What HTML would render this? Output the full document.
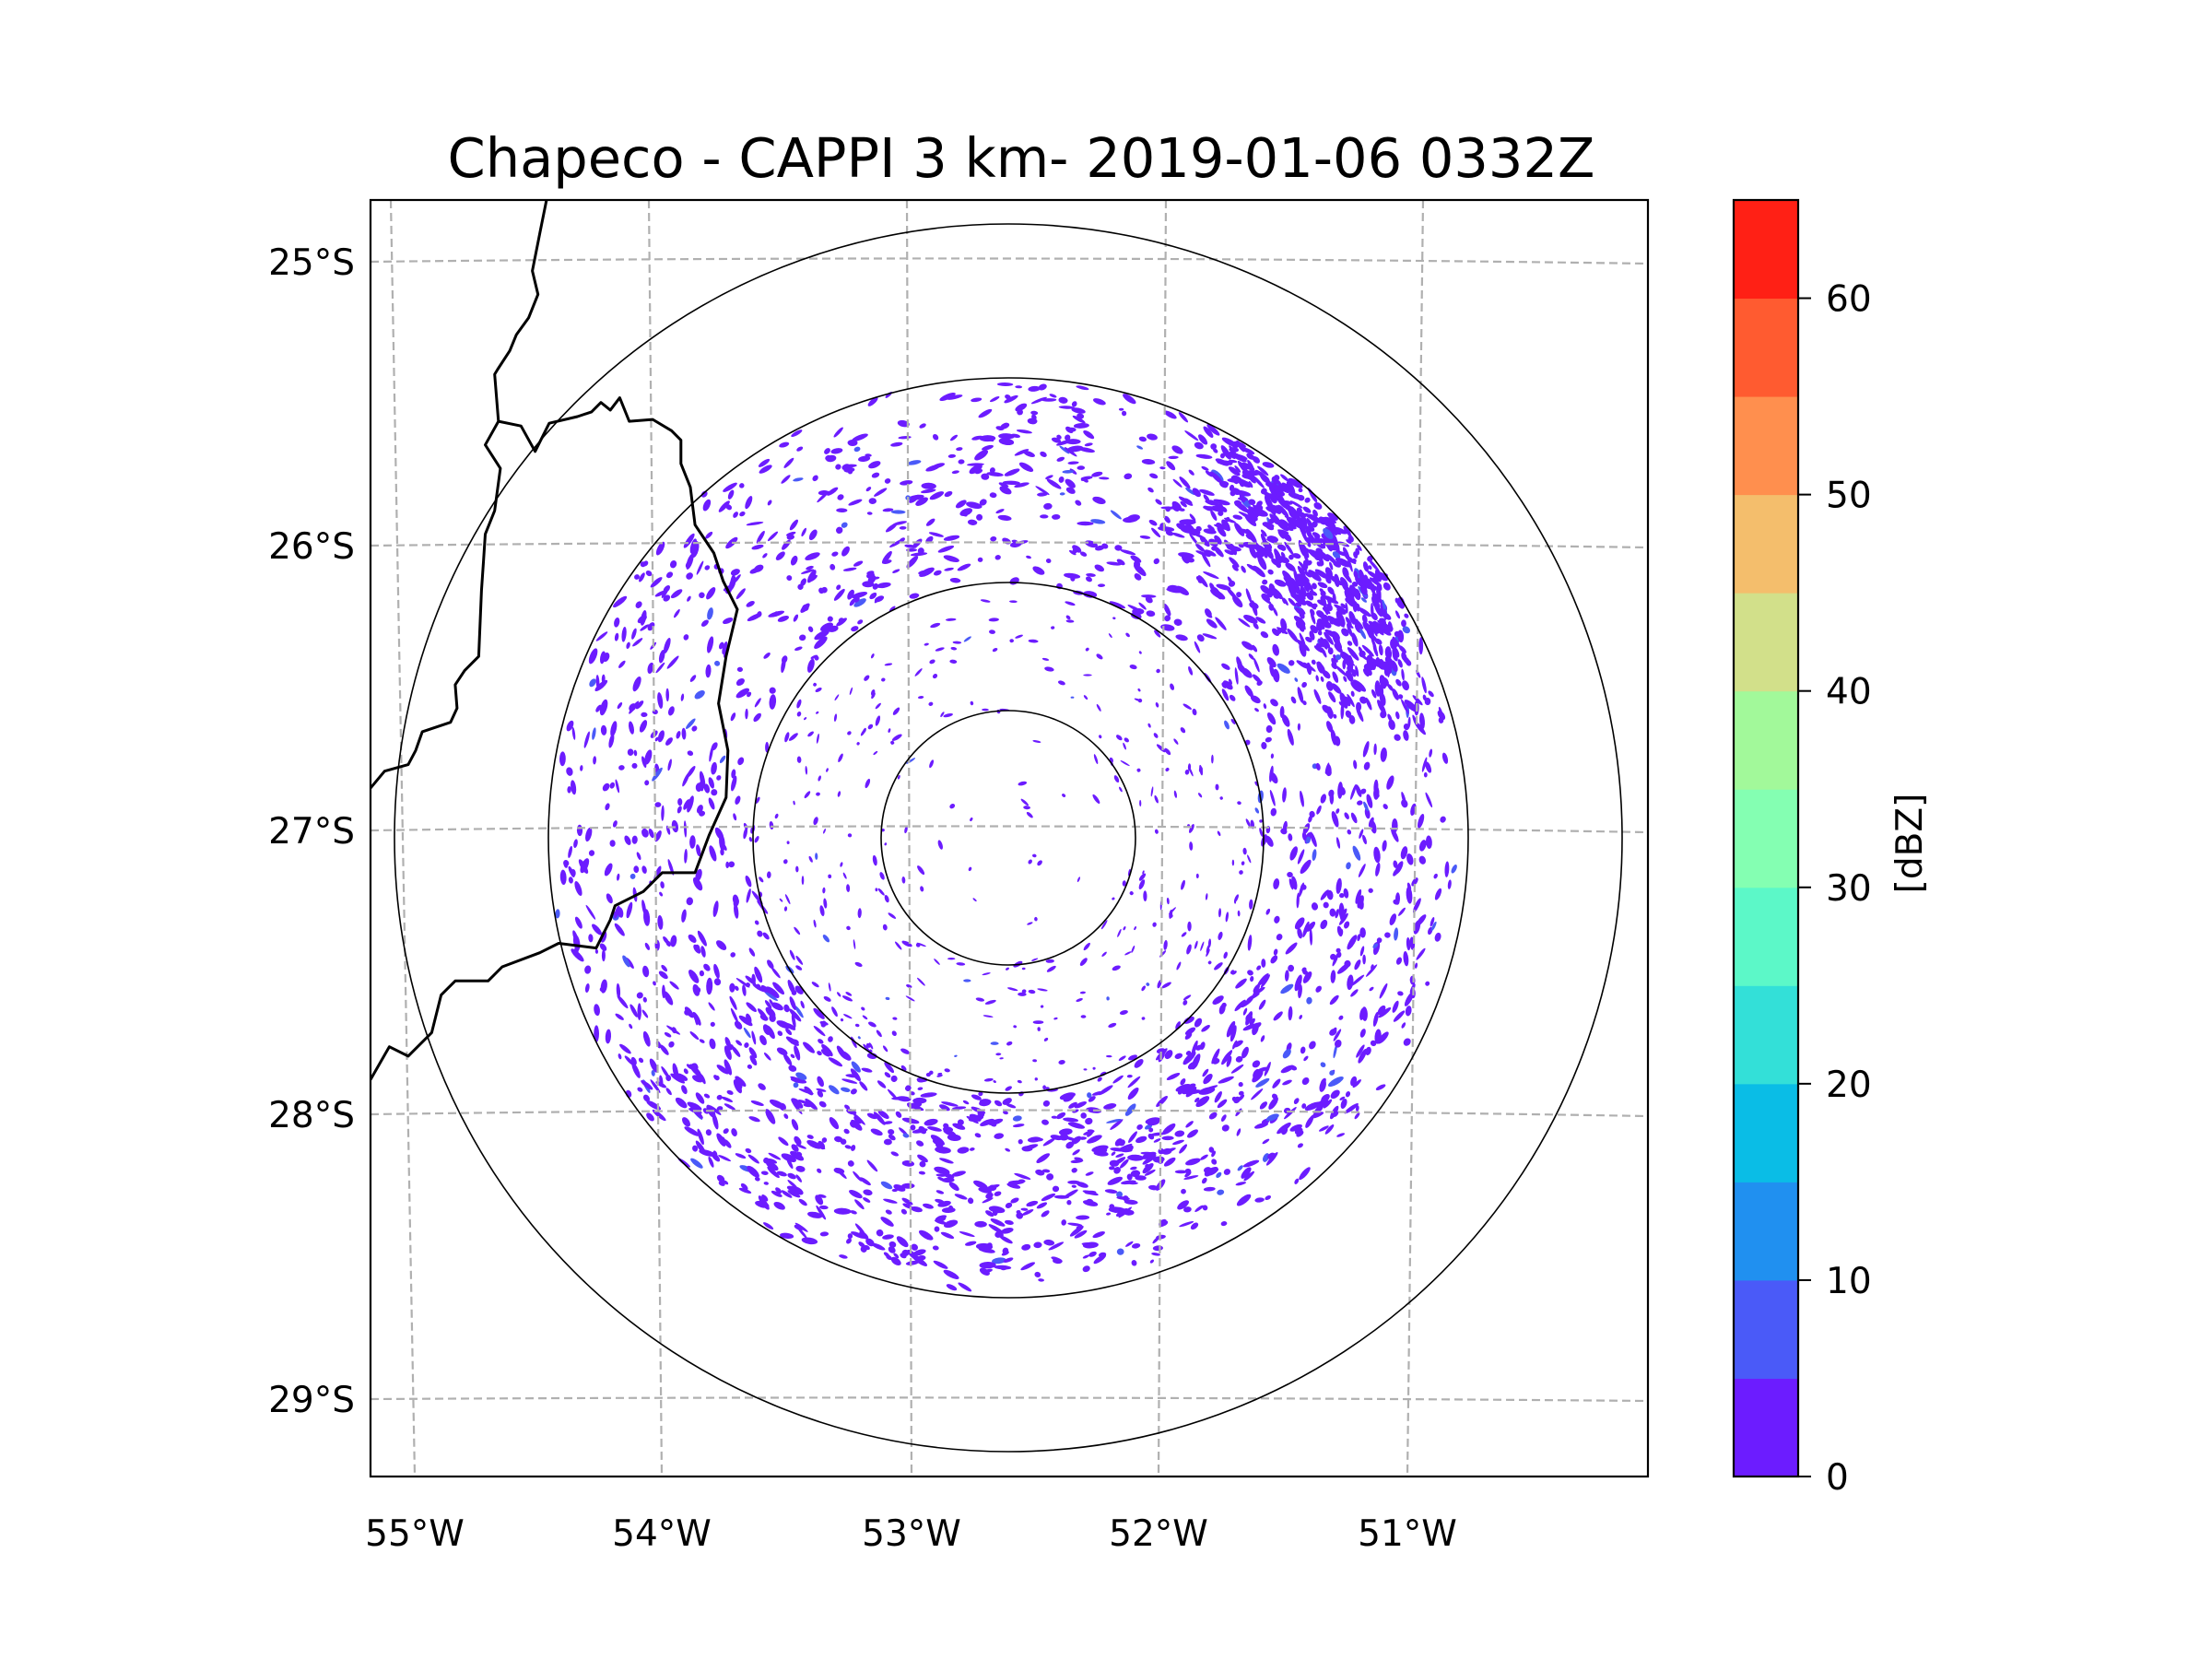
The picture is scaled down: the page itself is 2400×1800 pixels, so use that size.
<!DOCTYPE html>
<html><head><meta charset="utf-8"><style>
html,body{margin:0;padding:0;background:#fff}
svg{display:block}
text{font-family:"DejaVu Sans","Liberation Sans",sans-serif;fill:#000}
</style></head><body>
<svg id="fig" width="2400" height="1800" viewBox="0 0 2400 1800" xmlns="http://www.w3.org/2000/svg">
<rect width="2400" height="1800" fill="#fff"/>
<text x="1108" y="192" font-size="59" text-anchor="middle">Chapeco - CAPPI 3 km- 2019-01-06 0332Z</text>
<defs><clipPath id="axclip"><rect x="402" y="217" width="1386" height="1385"/></clipPath></defs>
<g id="map" clip-path="url(#axclip)">
<g id="echoes"></g>
<g id="grid"></g>
<g id="borders"></g>
<g id="rings"></g>
</g>
<rect x="402" y="217" width="1386" height="1385" fill="none" stroke="#000" stroke-width="2.2"/>
<g id="ticks"></g>
<g id="cbar"></g>
</svg>
<script>
const NS="http://www.w3.org/2000/svg";
function mk(tag,attrs,parent){const e=document.createElementNS(NS,tag);for(const k in attrs)e.setAttribute(k,attrs[k]);parent.appendChild(e);return e;}

// ---- data ----
const lonLabels=["55°W","54°W","53°W","52°W","51°W"];
const lonTopX=[424,704,984,1265,1544];
const lonBotX=[450,718,989,1257,1527];
const latLabels=["25°S","26°S","27°S","28°S","29°S"];
const latEdgeY=[284,592,901,1209,1518];
const latMidY=[280,588,896,1204,1516];
const ringRadii=[138,277,499,666];
const cbarLevels=[0,5,10,15,20,25,30,35,40,45,50,55,60,65];
const cbarColors=["#6c1cff","#4a5af8","#2090f0","#0abde6","#33e0d8","#5cf8c8","#84ffb2","#a2f99a","#d2e08a","#f4be6c","#ff8f4e","#ff5b30","#ff2015"];
const cbarTicks=[0,10,20,30,40,50,60];

const center={x:1094,y:909};
const grid=document.getElementById('grid');
for(let i=0;i<lonTopX.length;i++){
  const p=mk('line',{x1:lonTopX[i],y1:217,x2:lonBotX[i],y2:1602,stroke:'#b0b0b0','stroke-width':2.2,'stroke-dasharray':'9,5'},grid);
  
  
}
for(let i=0;i<latEdgeY.length;i++){
  const cy=2*latMidY[i]-latEdgeY[i];
  const p=mk('path',{d:`M402 ${latEdgeY[i]} Q1095 ${cy} 1788 ${latEdgeY[i]+2}`,fill:'none',stroke:'#b0b0b0','stroke-width':2.2,'stroke-dasharray':'9,5'},grid);
  
  
}
const rings=document.getElementById('rings');
ringRadii.forEach(r=>{
  const c=mk('circle',{cx:center.x,cy:center.y,r:r,fill:'none',stroke:'#000','stroke-width':1.6},rings);
  
  
});

function tr(pts){return pts.map(p=>[300+p[0]/0.98,100+p[1]/0.98]);}
const borderA=tr([[287,115],[280,150],[272,190],[278,215],[268,240],[255,258],[248,275],[235,295],[232,300],[236,350],[222,375],[238,400],[232,445],[222,470],[220,500],[218,530],[215,600],[200,615],[190,630],[192,655],[185,670],[155,680],[148,700],[140,715],[115,722],[100,740]]);
const borderB=tr([[236,350],[260,355],[275,382],[290,352],[320,345],[335,340],[345,330],[355,338],[365,325],[375,350],[400,348],[420,360],[430,370],[430,395],[440,420],[445,460],[465,490],[475,520],[490,550],[478,600],[470,650],[480,700],[478,750],[460,790],[445,830],[410,830],[390,850],[360,865],[355,880],[340,910],[300,905],[280,915],[240,930],[225,945],[190,945],[175,960],[165,1000],[140,1025],[120,1015],[100,1050]]);
const borders=document.getElementById('borders');
[borderA,borderB].forEach(b=>{
  const p=mk('path',{d:'M'+b.map(q=>q[0].toFixed(1)+' '+q[1].toFixed(1)).join(' L'),fill:'none',stroke:'#000','stroke-width':3,'stroke-linejoin':'round'},borders);
  
  
});

// echoes: deterministic speckle field (mulberry32)
let seed=987654321;
function rnd(){seed|=0;seed=seed+0x6D2B79F5|0;let t=Math.imul(seed^seed>>>15,1|seed);t=t+Math.imul(t^t>>>7,61|t)^t;return((t^t>>>14)>>>0)/4294967296;}
const ech=document.getElementById('echoes');
let html='';
for(let i=0;i<26000;i++){
  const r=Math.sqrt(rnd())*498;const a=rnd()*Math.PI*2;
  if(r<20)continue;
  let d=(r<138?0.022:r<277?0.05:0.1);
  const ne=Math.cos(a-(-0.72)); if(ne>0.9&&r>340)d+=0.9*(ne-0.9)*10*((r-340)/160);
  const s=Math.cos(a-Math.PI/2); if(s>0.5&&r>260)d+=0.05;
  if(r>475&&Math.cos(a-Math.PI*0.25)>0.3)d*=0.3;
  if(r>485)d*=0.5;
  if(rnd()>d)continue;
  const x=center.x+r*Math.cos(a),y=center.y+r*Math.sin(a);
  const big=r>277?1:0.65;
  const w=(2.5+rnd()*7)*big,h=(1.5+rnd()*2.2)*big;
  const ang=(a*180/Math.PI+90+(rnd()-0.5)*60).toFixed(0);
  const col=rnd()<0.04?'#4a5af8':'#6c1cff';
  html+=`<ellipse cx="${x.toFixed(1)}" cy="${y.toFixed(1)}" rx="${w.toFixed(1)}" ry="${h.toFixed(1)}" fill="${col}" transform="rotate(${ang} ${x.toFixed(1)} ${y.toFixed(1)})"/>`;
}
ech.innerHTML=html;

const ticks=document.getElementById('ticks');
lonLabels.forEach((t,i)=>{
  const e=mk('text',{x:lonBotX[i],y:1677,'font-size':39,'text-anchor':'middle'},ticks);e.textContent=t;
  
  
});
latLabels.forEach((t,i)=>{
  const e=mk('text',{x:385,y:latEdgeY[i]+14,'font-size':39,'text-anchor':'end'},ticks);e.textContent=t;
  
  
});

const cb=document.getElementById('cbar');
const cx0=1881,cw=70,ctop=217,cbot=1602,vmax=cbarLevels[cbarLevels.length-1];
const yv=v=>cbot-(v/vmax)*(cbot-ctop);
for(let i=0;i<cbarColors.length;i++){
  const r=mk('rect',{x:cx0,y:yv(cbarLevels[i+1]),width:cw,height:yv(cbarLevels[i])-yv(cbarLevels[i+1])+0.5,fill:cbarColors[i]},cb);
  
  
}
mk('rect',{x:cx0,y:ctop,width:cw,height:cbot-ctop,fill:'none',stroke:'#000','stroke-width':2.2},cb);
cbarTicks.forEach(v=>{
  mk('line',{x1:cx0+cw,y1:yv(v),x2:cx0+cw+14,y2:yv(v),stroke:'#000','stroke-width':2},cb);
  const e=mk('text',{x:cx0+cw+30,y:yv(v)+14,'font-size':39},cb);e.textContent=v;
  
  
});
const lab=mk('text',{x:2085,y:915,'font-size':39,'text-anchor':'middle',transform:'rotate(-90 2085 915)'},cb);
lab.textContent='[dBZ]';


</script>
</body></html>
